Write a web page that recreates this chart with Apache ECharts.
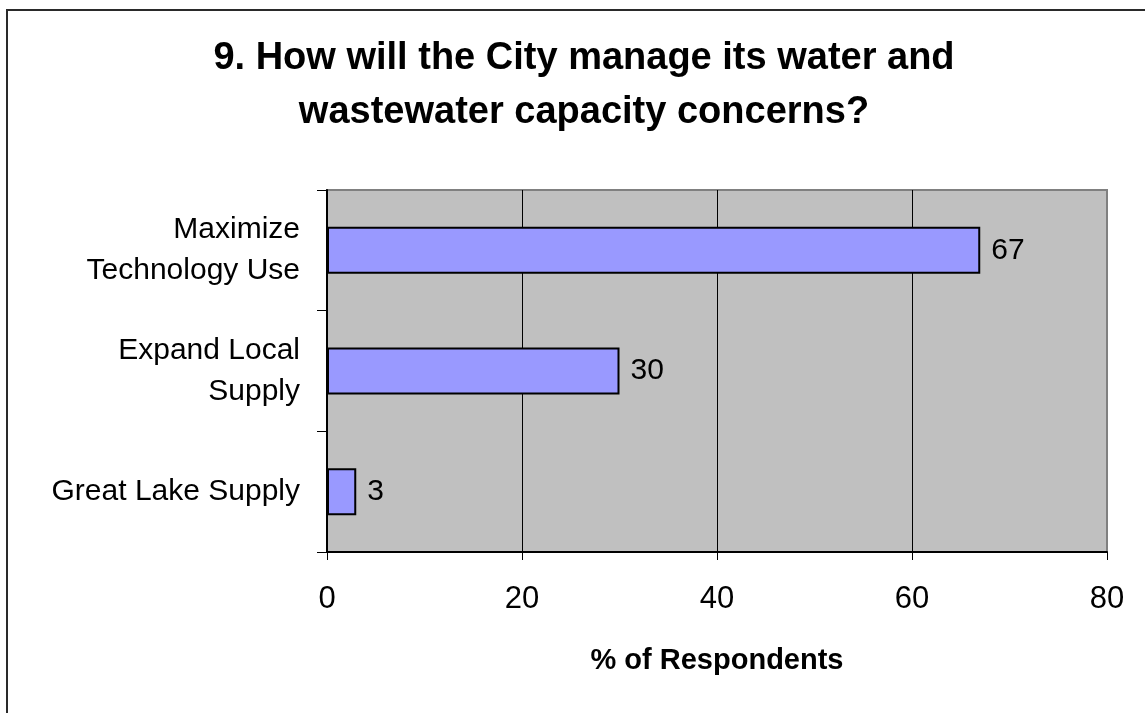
<!DOCTYPE html>
<html>
<head>
<meta charset="utf-8">
<script src="https://cdn.jsdelivr.net/npm/echarts@6/dist/echarts.min.js"></script>
<style>
  html, body { margin: 0; padding: 0; background: #ffffff; }
  #chart { width: 1145px; height: 713px; }
</style>
</head>
<body>
<div id="chart"></div>
<script>
// Survey answers, top to bottom
var categories = ['Maximize\nTechnology Use', 'Expand Local\nSupply', 'Great Lake Supply'];
var percents = [67, 30, 3];
var xTicks = [0, 20, 40, 60, 80];
var titleLines = ['9. How will the City manage its water and', 'wastewater capacity concerns?'];
var xAxisTitle = '% of Respondents';

var FONT = '"Liberation Sans", Arial, sans-serif';

var chart = echarts.init(document.getElementById('chart'), null, { renderer: 'canvas' });

chart.setOption({
  backgroundColor: '#ffffff',
  animation: false,
  graphic: [
    {
      type: 'rect',
      z: 0,
      shape: { x: 7, y: 10, width: 1400, height: 1000 },
      style: { fill: 'none', stroke: '#2a2a2a', lineWidth: 2 }
    },
    {
      type: 'text',
      x: 584, y: 59,
      style: {
        text: titleLines[0], font: 'bold 38px ' + FONT, fill: '#000',
        textAlign: 'center', textVerticalAlign: 'middle'
      }
    },
    {
      type: 'text',
      x: 584, y: 113,
      style: {
        text: titleLines[1], font: 'bold 38px ' + FONT, fill: '#000',
        textAlign: 'center', textVerticalAlign: 'middle'
      }
    }
  ],
  grid: {
    left: 327, right: 38, top: 190, bottom: 161,
    show: true,
    backgroundColor: '#c0c0c0',
    borderColor: '#808080',
    borderWidth: 2
  },
  xAxis: {
    type: 'value',
    min: xTicks[0],
    max: xTicks[xTicks.length - 1],
    interval: 20,
    name: xAxisTitle,
    nameLocation: 'middle',
    nameGap: 94,
    nameTextStyle: { fontFamily: FONT, fontWeight: 'bold', fontSize: 29, color: '#000' },
    axisLine: { show: true, lineStyle: { color: '#000', width: 2 } },
    axisTick: { show: true, length: 8, lineStyle: { color: '#000', width: 1 } },
    axisLabel: { fontFamily: FONT, fontSize: 31, color: '#000', margin: 32 },
    splitLine: { show: true, showMinLine: false, showMaxLine: false, lineStyle: { color: '#000', width: 1 } }
  },
  yAxis: {
    type: 'category',
    data: categories,
    inverse: true,
    axisLine: { show: true, lineStyle: { color: '#000', width: 2 } },
    axisTick: { show: true, length: 10, alignWithLabel: false, lineStyle: { color: '#000', width: 1 } },
    axisLabel: { fontFamily: FONT, fontSize: 30, color: '#000', margin: 27, lineHeight: 41, align: 'right' },
    splitLine: { show: false }
  },
  series: [{
    type: 'bar',
    data: percents,
    barWidth: 47,
    itemStyle: { color: '#9999ff', borderColor: '#000', borderWidth: 2 },
    label: {
      show: true, position: 'right', distance: 11,
      fontFamily: FONT, fontSize: 30, color: '#000'
    }
  }]
});
</script>
</body>
</html>
